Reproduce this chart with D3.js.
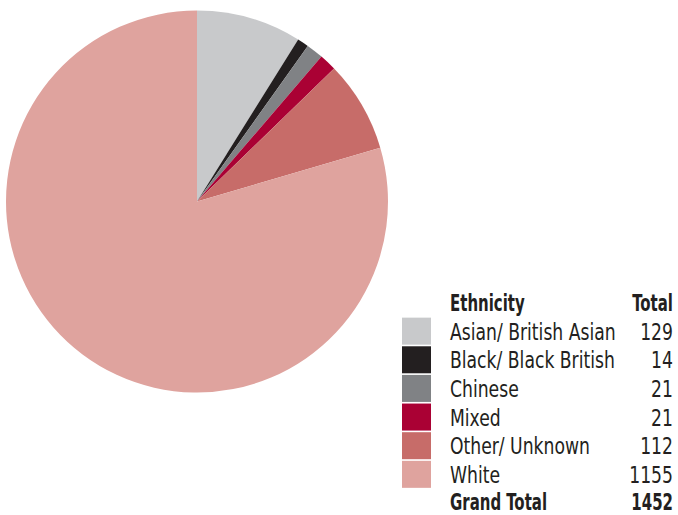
<!DOCTYPE html>
<html>
<head>
<meta charset="utf-8">
<script src="https://cdn.jsdelivr.net/npm/d3@7"></script>
<style>
  html, body { margin: 0; padding: 0; background: #fff; }
  svg { display: block; }
  text { font-family: "DejaVu Sans Condensed", "DejaVu Sans", sans-serif; fill: #231f20; }
</style>
</head>
<body>
<svg id="chart" width="678" height="515"></svg>
<script>
const categories = ["Asian/ British Asian", "Black/ Black British", "Chinese", "Mixed", "Other/ Unknown", "White"];
const totals = [129, 14, 21, 21, 112, 1155];
const colors = ["#c8c9cb", "#231f20", "#808285", "#aa0134", "#c76c69", "#dfa39e"];
const headers = ["Ethnicity", "Total"];
const grandTotalLabel = "Grand Total";
const grandTotal = 1452;

const svg = d3.select("#chart");
const cx = 197, cy = 201.5, r = 191;

const pie = d3.pie().sort(null).value(d => d.value);
const arc = d3.arc().innerRadius(0).outerRadius(r);
const data = categories.map((c, i) => ({ name: c, value: totals[i], color: colors[i] }));

svg.append("g")
  .attr("transform", `translate(${cx},${cy})`)
  .selectAll("path")
  .data(pie(data))
  .join("path")
  .attr("d", arc)
  .attr("fill", d => d.data.color);

// Legend table, condensed type (horizontally narrowed)
const legend = svg.append("g");
const textX = 450, numX = 673, headY = 311, rowStep = 28.64, totalY = 509.5;
const fs = 22.5, sxReg = 0.85, sxBold = 0.74;

function cell(parent, x, y, str, bold, anchor) {
  parent.append("text")
    .attr("transform", `translate(${x},${y}) scale(${bold ? sxBold : sxReg},1)`)
    .attr("font-size", fs)
    .attr("font-weight", bold ? "bold" : "normal")
    .attr("text-anchor", anchor || "start")
    .text(str);
}

cell(legend, textX, headY, headers[0], true);
cell(legend, numX, headY, headers[1], true, "end");

data.forEach((d, i) => {
  const y = headY + rowStep * (i + 1);
  legend.append("rect").attr("x", 402).attr("y", y - 22).attr("width", 29).attr("height", 27)
    .attr("fill", d.color);
  cell(legend, textX, y, d.name, false);
  cell(legend, numX, y, d.value, false, "end");
});

cell(legend, textX, totalY, grandTotalLabel, true);
cell(legend, numX, totalY, grandTotal, true, "end");
</script>
</body>
</html>
